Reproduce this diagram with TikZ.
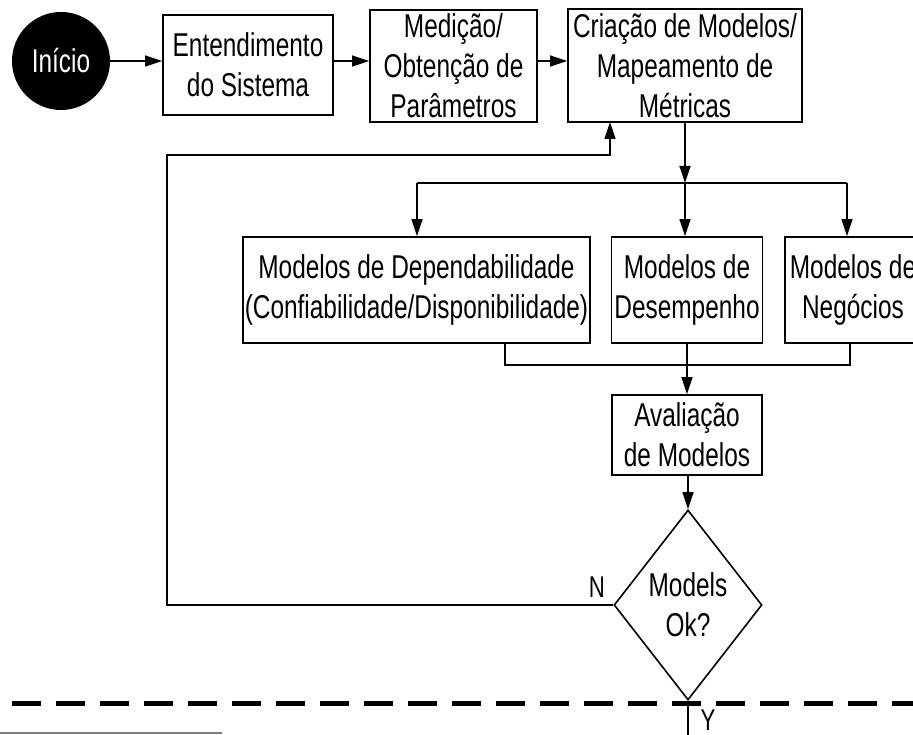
\documentclass[tikz,border=0pt]{standalone}
\usepackage{fontspec}
\setmainfont{Liberation Sans}[FakeStretch=0.74]
\usetikzlibrary{shapes.geometric,arrows.meta}
\begin{document}
\begin{tikzpicture}[x=1pt,y=-1pt,
  box/.style={draw,line width=1.6pt,inner sep=0pt,align=center,
    font=\fontsize{33}{40}\selectfont},
  arr/.style={line width=1.3pt,-{Triangle[length=17pt,width=11pt]}},
  ln/.style={line width=1.3pt},
  lbl/.style={inner sep=0pt,font=\fontsize{30}{36}\selectfont}]
\useasboundingbox (0,0) rectangle (913,735);
\clip (0,0) rectangle (913,735);
\node[circle,fill=black,text=white,minimum size=98pt,inner sep=0pt,
  font=\fontsize{33}{40}\selectfont] (start) at (61,61) {Início};
\node[box,minimum width=170pt,minimum height=100pt] (ent) at (248,65)
  {Entendimento\\do Sistema};
\node[box,minimum width=167pt,minimum height=112pt] (med) at (453.5,66)
  {Medição/\\Obtenção de\\Parâmetros};
\node[box,minimum width=234pt,minimum height=113pt] (cri) at (685,65.5)
  {Criação de Modelos/\\Mapeamento de\\Métricas};
\node[box,minimum width=347pt,minimum height=106pt] (dep) at (416.5,290)
  {Modelos de Dependabilidade\\(Confiabilidade/Disponibilidade)};
\node[box,minimum width=151pt,minimum height=106pt] (des) at (687,290)
  {Modelos de\\Desempenho};
\node[box,minimum width=136pt,minimum height=106pt] (neg) at (853,290)
  {Modelos de\\Negócios};
\node[box,minimum width=150pt,minimum height=80pt] (ava) at (687,435)
  {Avaliação\\de Modelos};
\node[diamond,draw,line width=1.6pt,inner sep=0pt,minimum width=148pt,
  minimum height=190pt,align=center,font=\fontsize{33}{40}\selectfont]
  (dia) at (688,605) {Models\\Ok?};
\node[lbl] (nlab) at (597,587) {N};
\node[lbl] (ylab) at (708,720) {Y};
% top row
\draw[arr] (start.east) -- (start.east -| ent.west);
\draw[arr] (ent.east |- start.east) -- (start.east -| med.west);
\draw[arr] (med.east |- start.east) -- (start.east -| cri.west);
% feedback
\coordinate (fb1) at (167,155);
\coordinate (fb2) at (610,122);
\draw[arr] (dia.west) -| (fb1) -| (fb2);
% distribution
\coordinate (busL) at (417,183);
\coordinate (busR) at (847,183);
\coordinate (busM) at (685,183);
\draw[arr] (cri.south) -- (busM);
\draw[ln] (busL) -- (busR);
\draw[arr] (busL) -- (busL |- dep.north);
\draw[arr] (busM) -- (busM |- des.north);
\draw[arr] (busR) -- (busR |- neg.north);
% merge
\coordinate (mL) at (505,365);
\coordinate (mR) at (850,365);
\draw[ln] (mL |- dep.south) -- (mL) -- (mR) -- (mR |- neg.south);
\draw[arr] (des.south) -- (ava.north);
\draw[arr] (ava.south -| dia.north) -- (dia.north);
\coordinate (yend) at (688,735);
\draw[ln] (dia.south) -- (yend);
% dashed separator
\coordinate (dL) at (12,703);
\coordinate (dR) at (913,703);
\draw[line width=5pt,dash pattern=on 29pt off 15pt] (dL) -- (dR);
\coordinate (gL) at (0,733);
\coordinate (gR) at (222,733);
\draw[line width=2pt,gray] (gL) -- (gR);
\end{tikzpicture}
\end{document}
